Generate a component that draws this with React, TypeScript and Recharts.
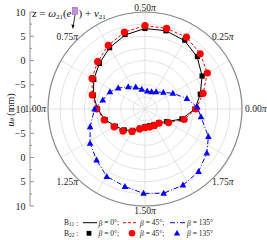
import React from 'react';
import { RadarChart, Radar, PolarGrid, PolarAngleAxis, PolarRadiusAxis, LineChart, Line, XAxis, YAxis } from 'recharts';

// ---- data ----
const angles15 = [0, 15, 30, 45, 60, 75, 90, 105, 120, 135, 150, 165, 180, 195, 210, 225, 240, 255, 270, 285, 300, 315, 330, 345];
// B11 (lines)
const b11Beta0 = [0.3, 1.8, 3.6, 5.2, 6.3, 6.7, 6.6, 5.8, 4.6, 3.3, 2.2, 1.0, -0.2, -1.5, -2.9, -3.9, -4.9, -5.9, -6.4, -6.4, -6.3, -6.0, -4.8, -2.1];
const b11Beta45 = [0.5, 2.4, 4.85, 6.1, 7.1, 7.2, 7.2, 6.4, 5.15, 3.8, 2.6, 1.25, -0.05, -1.3, -2.65, -3.55, -4.65, -5.75, -6.15, -6.15, -6.1, -5.9, -4.4, -1.65];
// B22 (markers)
const b22Beta0 = [0.3, 1.8, 3.6, 5.3, 6.4, 6.7, 6.6, 5.9, 4.6, 3.3, 2.2, 1.0, -0.2, -1.5, -2.9, -3.9, -4.9, -5.9, -6.4, -6.4, -6.3, -6.0, -4.8, -2.1];
const b22Beta45 = [0.5, 2.4, 4.85, 6.1, 7.1, 7.2, 7.2, 6.4, 5.15, 3.8, 2.6, 1.25, -0.05, -1.3, -2.65, -3.55, -4.65, -5.75, -6.15, -6.15, -6.1, -5.9, -4.4, -1.65];

const blueAngles = [2, 14, 29.5, 42, 57, 69, 83, 99.5, 113, 127, 142, 154, 168, 180, 198, 212, 226.5, 240.5, 255.5, 269, 282.5, 296.5, 310.5, 324.5, 336.5, 352];
const b11Beta135 = [0.8, -1.1, -3.4, -4.9, -5.8, -6.2, -6.3, -5.9, -5.1, -4.25, -3.0, -1.95, -1.1, 0.4, 1.9, 3.35, 4.5, 6.0, 6.5, 7.4, 7.8, 7.55, 7.0, 5.65, 4.25, 1.65];
const b22Beta135 = [0.8, -1.1, -3.4, -4.9, -5.8, -6.2, -6.3, -5.9, -5.1, -4.25, -3.0, -1.95, -1.1, 0.4, 1.9, 3.35, 4.5, 6.0, 6.5, 7.4, 7.8, 7.55, 7.0, 5.65, 4.25, 1.65];

const angleTicks = [0, 45, 90, 135, 180, 225, 270, 315];
const angleTickLabels = ['0.00', '0.25', '0.50', '0.75', '1.00', '1.25', '1.50', '1.75'];
const gridAngles = [0, 30, 60, 90, 120, 150, 180, 210, 240, 270, 300, 330];
const radiusTicks = [-10, -7.5, -5, -2.5, 0, 2.5, 5, 7.5, 10];
const yTicks = [-20, -17.5, -15, -12.5, -10, -7.5, -5, -2.5, 0, 2.5, 5, 7.5, 10, 12.5, 15, 17.5, 20];

const mainData = angles15.map((a, i) => ({
  angle: a,
  l0: b11Beta0[i],
  l45: b11Beta45[i],
  m0: b22Beta0[i],
  m45: b22Beta45[i],
}));
const blueData = blueAngles.map((a, i) => ({ angle: a, l135: b11Beta135[i], m135: b22Beta135[i] }));
const yData = yTicks.map((t, i) => ({ i, t }));

const SERIF = '"Liberation Serif", "DejaVu Serif", serif';
const W = 267;
const H = 240;
const CX = 145;
const CY = 109;
const R = 97;

const AngleTick = (props: any) => {
  const { x, y, payload } = props;
  const idx = angleTicks.indexOf(payload.value);
  if (idx < 0) return null;
  const rad = (payload.value * Math.PI) / 180;
  const c = Math.cos(rad);
  const s = Math.sin(rad);
  const anchor = c > 0.01 ? 'start' : c < -0.01 ? 'end' : 'middle';
  const base = s > 0.01 ? 'auto' : s < -0.01 ? 'hanging' : 'central';
  const dx = Math.abs(s) < 0.01 ? (c > 0 ? 1 : 0) : c > 0.01 ? -3 : c < -0.01 ? 3 : 0;
  const dy = s > 0.01 ? 1 : 0;
  return (
    <text x={x + dx} y={y + dy} textAnchor={anchor} dominantBaseline={base} fontFamily={SERIF} fontSize={9.5} fill="#222">
      {angleTickLabels[idx]}
      <tspan fontStyle="italic">π</tspan>
    </text>
  );
};

const YTick = (props: any) => {
  const { x, y, payload } = props;
  const v = payload.value as number;
  const major = Math.abs(v) % 5 === 0;
  const shown = Math.abs(v) - 10;
  const txt = shown < 0 ? '\u2212' + Math.abs(shown) : String(shown);
  return (
    <g>
      <line x1={x} y1={y} x2={x + (major ? 4 : 2)} y2={y} stroke="#777" strokeWidth={0.8} />
      {major && (
        <text x={x - 4.5} y={y} textAnchor="end" dominantBaseline="central" fontFamily={SERIF} fontSize={10} fill="#222">
          {txt}
        </text>
      )}
    </g>
  );
};

const SquareDot = (props: any) => {
  const { cx, cy } = props;
  if (cx == null || cy == null) return null;
  return <rect key={props.key} x={cx - 2.6} y={cy - 2.6} width={5.2} height={5.2} fill="#000" />;
};
const CircleDot = (props: any) => {
  const { cx, cy } = props;
  if (cx == null || cy == null) return null;
  return <circle key={props.key} cx={cx} cy={cy} r={3.6} fill="#ff0000" />;
};
const TriDot = (props: any) => {
  const { cx, cy } = props;
  if (cx == null || cy == null) return null;
  return <polygon key={props.key} points={`${cx},${cy - 3.6} ${cx + 3.3},${cy + 2.4} ${cx - 3.3},${cy + 2.4}`} fill="#0000ff" />;
};

const layer: React.CSSProperties = { position: 'absolute', left: 0, top: 0 };

export default function App() {
  return (
    <div style={{ position: 'absolute', left: 0, top: 0, width: W, height: H, background: '#fff', overflow: 'hidden' }}>
      {/* left linear axis */}
      <div style={layer}>
        <LineChart width={W} height={H} data={yData} margin={{ top: 12, right: 0, bottom: 34, left: 0 }}>
          <XAxis hide dataKey="i" />
          <YAxis
            type="number"
            domain={[-20, 20]}
            ticks={yTicks}
            interval={0}
            width={30}
            axisLine={{ stroke: '#777', strokeWidth: 0.8 }}
            tickLine={false}
            tickSize={0}
            tickMargin={0}
            tick={YTick}
          />
          <Line dataKey="t" stroke="none" dot={false} activeDot={false} isAnimationActive={false} />
        </LineChart>
      </div>
      {/* polar chart: grid, labels, beta 0 / 45 */}
      <div style={layer}>
        <RadarChart width={W} height={H} data={mainData} cx={CX} cy={CY} innerRadius={0} outerRadius={R} startAngle={0} endAngle={360} margin={{ top: 0, right: 0, bottom: 0, left: 0 }}>
          <PolarGrid gridType="circle" polarAngles={gridAngles} stroke="#dcdcdc" strokeWidth={0.8} />
          <PolarRadiusAxis type="number" domain={[-10, 10]} ticks={radiusTicks as any} tickCount={9} tick={false} axisLine={false} />
          <PolarAngleAxis
            dataKey="angle"
            type="number"
            domain={[0, 360]}
            ticks={angleTicks as any}
            axisLineType="circle"
            axisLine={{ stroke: '#8c8c8c', strokeWidth: 1.2 }}
            tickLine={false}
            tickSize={2}
            tick={AngleTick}
          />
          <Radar dataKey="l0" stroke="#000" strokeWidth={1} fill="none" fillOpacity={0} dot={false} isAnimationActive={false} />
          <Radar dataKey="l45" stroke="#ff0000" strokeWidth={1} strokeDasharray="3 2" fill="none" fillOpacity={0} dot={false} isAnimationActive={false} />
          <Radar dataKey="m0" stroke="none" fill="none" fillOpacity={0} dot={SquareDot} isAnimationActive={false} />
          <Radar dataKey="m45" stroke="none" fill="none" fillOpacity={0} dot={CircleDot} isAnimationActive={false} />
        </RadarChart>
      </div>
      {/* polar chart: beta 135 */}
      <div style={layer}>
        <RadarChart width={W} height={H} data={blueData} cx={CX} cy={CY} innerRadius={0} outerRadius={R} startAngle={0} endAngle={360} margin={{ top: 0, right: 0, bottom: 0, left: 0 }}>
          <PolarRadiusAxis type="number" domain={[-10, 10]} tick={false} axisLine={false} />
          <PolarAngleAxis dataKey="angle" type="number" domain={[0, 360]} tick={false} axisLine={false} tickLine={false} />
          <Radar dataKey="l135" stroke="#0000ff" strokeWidth={1} strokeDasharray="5 2 1 2" fill="none" fillOpacity={0} dot={false} isAnimationActive={false} />
          <Radar dataKey="m135" stroke="none" fill="none" fillOpacity={0} dot={TriDot} isAnimationActive={false} />
        </RadarChart>
      </div>
      {/* annotations */}
      <svg width={W} height={H} style={{ ...layer, pointerEvents: 'none' }}>
        <text transform="translate(10,110) rotate(-90)" textAnchor="middle" dominantBaseline="central" fontFamily={SERIF} fontSize={10} fill="#222">
          <tspan fontStyle="italic">u</tspan>
          <tspan fontStyle="italic" fontSize={7} dy={2}>θ</tspan>
          <tspan dy={-2}> (mm)</tspan>
        </text>
        <text x={71.5} y={17} textAnchor="end" fontFamily={SERIF} fontSize={11} fill="#111">
          <tspan fontStyle="italic">z</tspan>
          <tspan> = </tspan>
          <tspan fontStyle="italic">ω</tspan>
          <tspan fontSize={7} dy={2}>21</tspan>
          <tspan dy={-2}>(</tspan>
          <tspan fontStyle="italic">e</tspan>
        </text>
        <rect x={72.5} y={7.5} width={5} height={7} fill="#c68ee0" stroke="#9a5cc0" strokeWidth={0.6} />
        <text x={78.5} y={17} textAnchor="start" fontFamily={SERIF} fontSize={11} fill="#111">
          <tspan>) + </tspan>
          <tspan fontStyle="italic">v</tspan>
          <tspan fontSize={7} dy={2}>21</tspan>
        </text>
        <line x1={75} y1={15} x2={73.2} y2={26} stroke="#000" strokeWidth={0.8} />
        <polygon points="71.4,24.5 74.6,25 72.8,29" fill="#000" />
        {/* legend */}
        <g fontFamily={SERIF} fontSize={7.5} fill="#222">
          <text x={64} y={222.7} dominantBaseline="central">
            B<tspan fontSize={5.5} dy={1.5}>11</tspan>
            <tspan dy={-1.5}> :</tspan>
          </text>
          <line x1={83} y1={222.7} x2={97} y2={222.7} stroke="#000" strokeWidth={1} />
          <text x={98.5} y={222.7} dominantBaseline="central"><tspan fontStyle="italic">β</tspan> = 0°;</text>
          <line x1={123} y1={222.7} x2={137} y2={222.7} stroke="#ff0000" strokeWidth={1} strokeDasharray="3 2" />
          <text x={140} y={222.7} dominantBaseline="central"><tspan fontStyle="italic">β</tspan> = 45°;</text>
          <line x1={170} y1={222.7} x2={185} y2={222.7} stroke="#0000ff" strokeWidth={1} strokeDasharray="5 2 1 2" />
          <text x={187} y={222.7} dominantBaseline="central"><tspan fontStyle="italic">β</tspan> = 135°</text>

          <text x={64} y={233.3} dominantBaseline="central">
            B<tspan fontSize={5.5} dy={1.5}>22</tspan>
            <tspan dy={-1.5}> :</tspan>
          </text>
          <rect x={86.6} y={230.9} width={4.8} height={4.8} fill="#000" />
          <text x={98.5} y={233.3} dominantBaseline="central"><tspan fontStyle="italic">β</tspan> = 0°;</text>
          <circle cx={132} cy={233.3} r={3.3} fill="#ff0000" />
          <text x={140} y={233.3} dominantBaseline="central"><tspan fontStyle="italic">β</tspan> = 45°;</text>
          <polygon points="177,229.9 180.2,235.4 173.8,235.4" fill="#0000ff" />
          <text x={187} y={233.3} dominantBaseline="central"><tspan fontStyle="italic">β</tspan> = 135°</text>
        </g>
      </svg>
    </div>
  );
}
